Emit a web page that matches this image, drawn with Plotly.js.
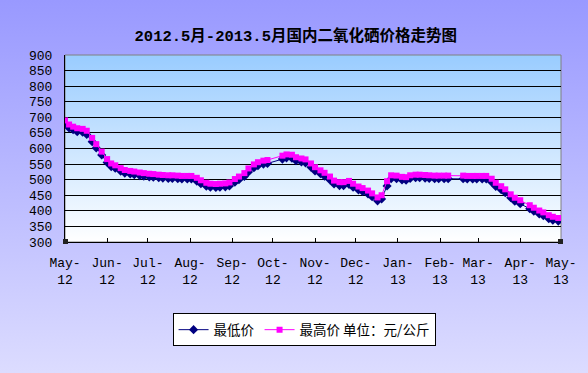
<!DOCTYPE html>
<html>
<head>
<meta charset="utf-8">
<script src="https://cdn.plot.ly/plotly-3.0.1.min.js"></script>
<style>
  html, body { margin: 0; padding: 0; }
  #chart { width: 588px; height: 373px; background: linear-gradient(to bottom, #9999ff 0%, #dcdcff 100%); }
</style>
</head>
<body>
<div id="chart"></div>
<script>
// ---- data ----
const dates = [
  '2012-05-01','2012-05-04','2012-05-07','2012-05-10','2012-05-14','2012-05-17','2012-05-21','2012-05-24','2012-05-28',
  '2012-06-01','2012-06-04','2012-06-07','2012-06-11','2012-06-14','2012-06-18','2012-06-21','2012-06-25','2012-06-28',
  '2012-07-02','2012-07-05','2012-07-09','2012-07-12','2012-07-16','2012-07-19','2012-07-23','2012-07-26','2012-07-30',
  '2012-08-02','2012-08-06','2012-08-09','2012-08-13','2012-08-16','2012-08-20','2012-08-23','2012-08-27','2012-08-30',
  '2012-09-03','2012-09-06','2012-09-10','2012-09-13','2012-09-17','2012-09-20','2012-09-24','2012-09-27',
  '2012-10-08','2012-10-11','2012-10-15','2012-10-18','2012-10-22','2012-10-25','2012-10-29',
  '2012-11-01','2012-11-05','2012-11-08','2012-11-12','2012-11-15','2012-11-19','2012-11-22','2012-11-26','2012-11-29',
  '2012-12-03','2012-12-06','2012-12-10','2012-12-13','2012-12-17','2012-12-20','2012-12-24','2012-12-27','2012-12-31',
  '2013-01-04','2013-01-07','2013-01-10','2013-01-14','2013-01-17','2013-01-21','2013-01-24','2013-01-28','2013-01-31',
  '2013-02-04','2013-02-07','2013-02-18','2013-02-21','2013-02-25','2013-02-28',
  '2013-03-04','2013-03-07','2013-03-11','2013-03-14','2013-03-18','2013-03-21','2013-03-25','2013-03-28',
  '2013-04-01','2013-04-08','2013-04-11','2013-04-15','2013-04-18','2013-04-22','2013-04-25','2013-04-29'
];
const highPrice = [
  690,677,670,665,663,657,634,614,590,
  566,552,546,537,531,528,526,523,521,
  519,518,516,515,514,514,513,512,512,
  512,506,498,490,487,486,487,488,491,
  502,510,521,536,549,556,561,563,
  577,581,580,572,568,565,552,
  540,530,522,510,497,492,492,496,487,
  478,473,465,456,443,450,495,514,513,
  509,508,514,516,516,515,514,513,513,
  513,513,513,512,512,512,
  512,512,503,490,479,469,453,442,
  434,418,410,401,395,386,381,377
];
const lowPrice = [
  680,666,660,654,652,645,622,602,579,
  555,542,537,527,521,518,516,513,511,
  509,508,506,505,504,504,503,502,502,
  502,495,487,479,476,475,476,477,480,
  492,500,510,525,538,545,550,552,
  566,570,569,561,557,554,540,
  528,519,511,499,486,481,481,485,476,
  467,462,454,445,432,438,480,503,503,
  499,498,504,506,506,505,504,503,503,
  503,503,503,502,502,502,
  502,502,492,478,468,458,442,431,
  423,407,399,390,384,375,370,367
];
const monthTicks = ['2012-05-01','2012-06-01','2012-07-01','2012-08-01','2012-09-01','2012-10-01','2012-11-01',
  '2012-12-01','2013-01-01','2013-02-01','2013-03-01','2013-04-01','2013-05-01'];
const monthLabels = ['May-<br>12','Jun-<br>12','Jul-<br>12','Aug-<br>12','Sep-<br>12','Oct-<br>12','Nov-<br>12',
  'Dec-<br>12','Jan-<br>13','Feb-<br>13','Mar-<br>13','Apr-<br>13','May-<br>13'];
const seriesNames = ['最低价', '最高价 单位：元/公斤'];
const titleText = '2012.5月-2013.5月国内二氧化硒价格走势图';

// ---- background gradient for plot area ----
const svg = "<svg xmlns='http://www.w3.org/2000/svg' width='100' height='100' preserveAspectRatio='none'>" +
  "<defs><linearGradient id='g' x1='0' y1='0' x2='0' y2='1'>" +
  "<stop offset='0' stop-color='#99ccff'/><stop offset='1' stop-color='#ffffff'/></linearGradient></defs>" +
  "<rect width='100' height='100' fill='url(#g)'/></svg>";
const bgUri = 'data:image/svg+xml;charset=utf-8,' + encodeURIComponent(svg);

const axisFont = { family: 'Liberation Mono, monospace', size: 13, color: '#000' };

const traces = [
  {
    x: dates, y: lowPrice, name: seriesNames[0], type: 'scatter', mode: 'lines+markers',
    line: { color: '#000080', width: 1 },
    marker: { symbol: 'diamond', size: 7, color: '#000080' }
  },
  {
    x: dates, y: highPrice, name: seriesNames[1], type: 'scatter', mode: 'lines+markers',
    line: { color: '#ff00ff', width: 1 },
    marker: { symbol: 'square', size: 6, color: '#ff00ff' }
  }
];

const layout = {
  width: 588, height: 373,
  margin: { l: 65, r: 27, t: 55, b: 131, pad: 0 },
  paper_bgcolor: 'rgba(0,0,0,0)',
  plot_bgcolor: 'rgba(0,0,0,0)',
  title: {
    text: '<b>' + titleText + '</b>',
    font: { family: 'Liberation Mono, Noto Sans CJK SC, monospace', size: 15.5, color: '#000' },
    x: 0.503, xanchor: 'center', y: 0.905, yanchor: 'middle'
  },
  xaxis: {
    type: 'date',
    range: ['2012-05-01', '2013-05-01'],
    tickmode: 'array', tickvals: monthTicks, ticktext: monthLabels,
    showgrid: false, zeroline: false,
    showline: true, linecolor: '#000', linewidth: 1,
    ticks: 'inside', ticklen: 4, tickcolor: '#000', tickwidth: 1,
    tickfont: axisFont, ticklabelstandoff: 8
  },
  yaxis: {
    range: [300, 900], dtick: 50, tick0: 300,
    showgrid: true, gridcolor: '#000', gridwidth: 1,
    zeroline: false, showline: true, linecolor: '#000', linewidth: 1,
    ticks: '', tickfont: axisFont, ticklabelstandoff: 9
  },
  images: [{
    source: bgUri, xref: 'paper', yref: 'paper', x: 0, y: 1, sizex: 1, sizey: 1,
    xanchor: 'left', yanchor: 'top', sizing: 'stretch', layer: 'below'
  }],
  shapes: [
    { type: 'rect', xref: 'paper', yref: 'paper', x0: 0, x1: 1, y0: 0, y1: 1,
      line: { color: '#808080', width: 1 }, layer: 'below' },
    { type: 'rect', xref: 'paper', yref: 'paper', xsizemode: 'pixel', ysizemode: 'pixel',
      xanchor: 0, yanchor: 0, x0: -2, x1: 3, y0: -2, y1: 3, fillcolor: '#222', line: { width: 0 } },
    { type: 'rect', xref: 'paper', yref: 'paper', xsizemode: 'pixel', ysizemode: 'pixel',
      xanchor: 1, yanchor: 0, x0: -3, x1: 2, y0: -2, y1: 3, fillcolor: '#222', line: { width: 0 } }
  ],
  showlegend: true,
  legend: {
    orientation: 'h', x: 0.482, xanchor: 'center', y: -0.47, yanchor: 'middle',
    bgcolor: '#ffffff', bordercolor: '#000', borderwidth: 1,
    font: { family: 'Noto Sans CJK SC, sans-serif', size: 13.5, color: '#000' },
    itemwidth: 30, tracegroupgap: 0
  }
};

Plotly.newPlot('chart', traces, layout, { displayModeBar: false, staticPlot: true });
</script>
</body>
</html>
